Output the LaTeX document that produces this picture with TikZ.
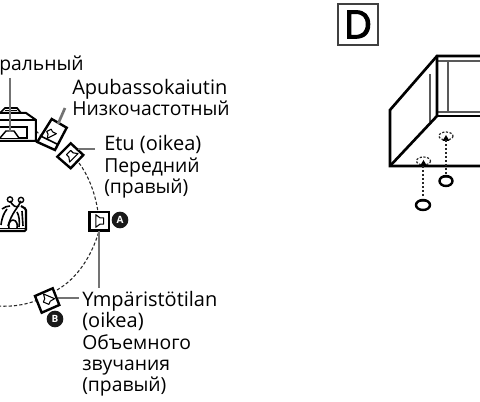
\documentclass[tikz,border=0pt]{standalone}
\usepackage{fontspec}
\setmainfont{Open Sans}
\newcommand{\spkcone}{\draw[line width=0.8pt,line join=round] (-3,-3.5) -- (3,-3.5) -- (3,0) -- (6,4) -- (-6,4) -- (-3,0) -- cycle;}
\tikzset{
  lbl/.style={anchor=base west,inner sep=0pt,font=\fontsize{14.5pt}{16pt}\selectfont,text=black},
  lat/.style={lbl,font=\fontsize{15pt}{16pt}\selectfont},
  outline/.style={draw=black,line width=1.8pt,fill=white,line join=miter},
  leader/.style={draw=black!55,line width=2pt},
  ring/.style={draw=black!85,line width=0.8pt,dash pattern=on 2.4pt off 1.6pt},
  badge/.style={circle,fill=black!90,text=white,inner sep=0pt,minimum size=12.5pt,font=\fontsize{7.5pt}{8pt}\selectfont\bfseries},
  cab/.style={draw=black,line width=2pt,line cap=round},
  cabthin/.style={draw=black!65,line width=0.9pt},
  dotline/.style={draw=black!85,line width=1.4pt,dash pattern=on 1.5pt off 1.5pt},
  hole/.style={draw=black!85,line width=0.9pt,dash pattern=on 1.6pt off 1.2pt},
  foot/.style={draw=black,line width=1.8pt,fill=white}
}
\begin{document}
\begin{tikzpicture}[x=0.75pt,y=-0.75pt]
\useasboundingbox (0,0) rectangle (480,402);
\begin{scope}
\clip (0,0) rectangle (480,402);
% surround ring
\coordinate (r0) at (-2,306);
\coordinate (rB) at (38,300);
\coordinate (rB2) at (57,290);
\coordinate (rA2) at (99,231);
\coordinate (rA1) at (98,212);
\coordinate (rF) at (79,163);
\draw[ring] (r0) .. controls (12,307) and (25,305) .. (rB);
\draw[ring] (rB2) .. controls (78,278) and (92,255) .. (rA2);
\draw[ring] (rF) .. controls (88,175) and (95,192) .. (rA1);
\draw[ring] (36,131) -- (42,137);

% leaders
\coordinate (lc1) at (10,78); \coordinate (lc2) at (10,132);
\coordinate (ls1) at (65,108); \coordinate (ls2) at (58,124);
\coordinate (lf1) at (95,149); \coordinate (lf2) at (78,149);
\coordinate (lb1) at (79,298); \coordinate (lb2) at (58,298);
\coordinate (la1) at (99,288); \coordinate (la2) at (99,231);

% centre speaker
\draw[line width=1.5pt,fill=white] (-2,113) -- (26,113) -- (36,120) -- (36,141) -- (-2,141);
\draw[line width=1.3pt] (-2,120) -- (36,120);
\draw[line width=1.3pt] (-2,127) -- (27,127) -- (27,138) -- (-2,138);
\draw[line width=1.3pt] (0,113) -- (5,108) -- (17,108) -- (21,113);
\draw[line width=1.1pt] (5,110.5) -- (17,110.5);
\draw[line width=1.1pt,fill=white] (0,138) -- (6,131) -- (14,131) -- (19,138);
\draw[leader] (lc1) -- (lc2);

% subwoofer
\draw[outline] (51.7,119) -- (66.7,127.7) -- (55,150) -- (37.3,142) -- cycle;
\draw[line width=1.2pt] (40.5,136) -- (58,144.5);
\begin{scope}[shift={(50.3,133)},rotate=27,scale=0.85]\spkcone\end{scope}
\draw[leader] (ls1) -- (ls2);

% front right
\draw[outline] (70.7,143.3) -- (83.3,155) -- (70.7,168.3) -- (57.3,156.7) -- cycle;
\begin{scope}[shift={(71,155)},rotate=45,scale=1]\spkcone\end{scope}
\draw[leader] (lf1) -- (lf2);

% speaker A
\draw[outline] (89.5,212) rectangle (109,230.5);
\begin{scope}[shift={(100,221)},rotate=-90,scale=1.05]\spkcone\end{scope}
\draw[leader] (la1) -- (la2);
\node[badge] (badgeA) at (120,220) {A};

% speaker B
\draw[outline] (35,296) -- (52.7,288.3) -- (59.3,305) -- (41.7,312.7) -- cycle;
\begin{scope}[shift={(47.5,300)},rotate=157,scale=1]\spkcone\end{scope}
\draw[leader] (lb1) -- (lb2);
\node[badge] (badgeB) at (55,319) {B};

% listener
\draw[line width=1.6pt,fill=white,rounded corners=1pt] (-2,231) -- (26,231) -- (26,209) -- (21,206);
\draw[line width=1pt] (-2,228.5) -- (25,228.5);
\draw[line width=1.2pt] (10,201) .. controls (13,206) and (16,208) .. (19,206);
\draw[line width=1.2pt] (21,201) .. controls (18,208) and (12,212) .. (8,226);
\draw[line width=1.2pt] (2,209) .. controls (5,207) and (7,206) .. (10,206);
\draw[line width=1.2pt] (1,225) .. controls (2,217) and (4,213) .. (7,209);
\draw[line width=1.2pt] (17,212) .. controls (19,215) and (20,222) .. (19,227);
\draw[line width=1.2pt] (22,211) -- (23,226);
\draw[line width=1.2pt] (13,220) .. controls (9,220) and (8,226) .. (9,228);
\draw[line width=1.2pt] (13,220) .. controls (17,220) and (18,226) .. (17,228);
\draw[line width=1pt] (10,199.5) circle (2pt);
\draw[line width=1pt] (21,200) circle (2pt);

% labels
\node[lbl] (tcentre) at (-1,71) {ральный};
\node[lat] (tsub1) at (72,95) {Apubassokaiutin};
\node[lbl] (tsub2) at (72,116) {Низкочастотный};
\node[lat] (tf1) at (104,151) {Etu (oikea)};
\node[lbl] (tf2) at (104,172.5) {Передний};
\node[lbl] (tf3) at (104,194) {(правый)};
\node[lat] (ts1) at (82,307) {Ympäristötilan};
\node[lat] (ts2) at (82,328) {(oikea)};
\node[lbl] (ts3) at (82,350) {Объемного};
\node[lbl] (ts4) at (82,371) {звучания};
\node[lbl] (ts5) at (82,392) {(правый)};

% D
\node[draw=black!75,line width=1.5pt,minimum width=30.5pt,minimum height=30.5pt,inner sep=0pt,font=\fontsize{29pt}{30pt}\selectfont\addfontfeature{FakeBold=3}] (dbox) at (358,24.5) {D};

% cabinet
\draw[cabthin] (430,74) -- (430,122);
\draw[cabthin] (437,61) -- (480,61);
\draw[cabthin] (448,61) -- (448,112);
\draw[cabthin] (437,112) -- (480,112);
\draw[cab] (480,56) -- (437,56) -- (390,110) -- (390,166) -- (480,166);
\draw[cab] (437,56) -- (437,116) -- (390,166);
\draw[cab] (437,116) -- (480,116);

% feet
\coordinate (h1) at (446,136); \coordinate (h2) at (423.5,161);
\draw[hole] (h1) ellipse (7 and 4);
\draw[hole] (h2) ellipse (7 and 4);
\fill (446,135) -- (449.5,141) -- (442.5,141) -- cycle;
\fill (423.5,160) -- (427,166) -- (420,166) -- cycle;
\draw[dotline] (446,140) -- (446,174);
\draw[dotline] (423,166) -- (423,198);
\draw[foot] (446,181) ellipse (6.5 and 5);
\draw[line width=0.9pt] (440,179.5) arc[start angle=180,end angle=360,x radius=6,y radius=2.5];
\draw[foot] (423,205) ellipse (7 and 5);
\draw[line width=0.9pt] (416.5,203.5) arc[start angle=180,end angle=360,x radius=6.5,y radius=2.5];
\end{scope}
\end{tikzpicture}
\end{document}
